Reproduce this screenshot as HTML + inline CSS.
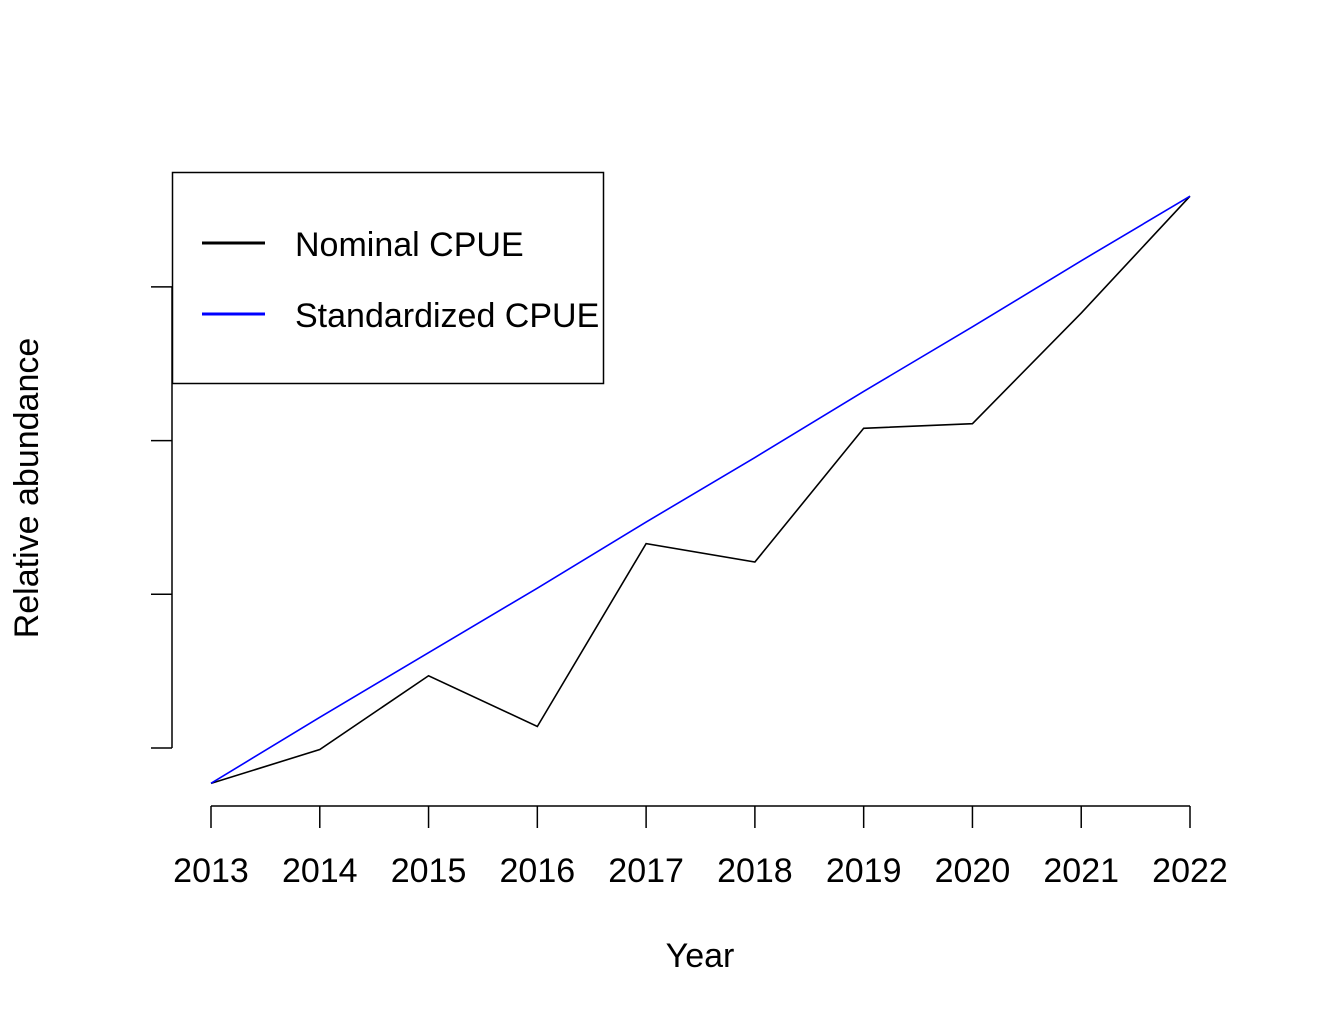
<!DOCTYPE html>
<html><head><meta charset="utf-8"><style>
body{margin:0;background:#fff;}
svg{display:block;font-family:"Liberation Sans",Arial,sans-serif;}
</style></head><body>
<svg id="chart" width="1319" height="1021">
<g id="axes"></g><g id="series"></g>
<g>
<rect x="172.5" y="172.5" width="431" height="211" fill="none" stroke="#000" stroke-width="1.5"/>
<line x1="202" y1="243" x2="265" y2="243" stroke="#000" stroke-width="3"/>
<text x="295" y="256" font-size="34">Nominal CPUE</text>
<line x1="202" y1="314" x2="265" y2="314" stroke="#0000ff" stroke-width="3"/>
<text x="295" y="327" font-size="34">Standardized CPUE</text>
</g>
<text x="700" y="967" font-size="34" text-anchor="middle">Year</text>
<text transform="translate(38,488) rotate(-90)" font-size="34" text-anchor="middle">Relative abundance</text>
</svg>
<script>
const years = [2013,2014,2015,2016,2017,2018,2019,2020,2021,2022];
const nominal = [0.77,0.99,1.47,1.14,2.33,2.21,3.08,3.11,3.83,4.59];
const standardized = [0.77,1.20,1.62,2.04,2.47,2.89,3.32,3.74,4.17,4.59];
const yTicks = [1,2,3,4];
const NS="http://www.w3.org/2000/svg";
const xs = y => 211 + (y-2013)*(1190-211)/9;
const ys = v => 748 - (v-1)*153.7;
function mk(tag, attrs, parent){const e=document.createElementNS(NS,tag);for(const k in attrs)e.setAttribute(k,attrs[k]);parent.appendChild(e);return e;}
const axes=document.getElementById('axes'), series=document.getElementById('series');
let e=mk('line',{x1:xs(2013),y1:806,x2:xs(2022),y2:806,stroke:'#000','stroke-width':1.5},axes);


years.forEach(y=>{
  let t=mk('line',{x1:xs(y),y1:806,x2:xs(y),y2:828,stroke:'#000','stroke-width':1.5},axes);
  
  
  let l=mk('text',{x:xs(y),y:882,'font-size':34,'text-anchor':'middle'},axes);
  l.textContent=y;
  
  
});
e=mk('line',{x1:172,y1:ys(yTicks[yTicks.length-1]),x2:172,y2:ys(yTicks[0]),stroke:'#000','stroke-width':1.5},axes);


yTicks.forEach(v=>{
  let t=mk('line',{x1:151,y1:ys(v),x2:172,y2:ys(v),stroke:'#000','stroke-width':1.5},axes);
  
  
});
function line(vals,color,name){
  const p=mk('polyline',{points:vals.map((v,i)=>xs(years[i])+','+ys(v)).join(' '),fill:'none',stroke:color,'stroke-width':1.6},series);
  
  
}
line(nominal,'#000','nominal-cpue-line');
line(standardized,'#0000ff','standardized-cpue-line');
</script>
</body></html>
